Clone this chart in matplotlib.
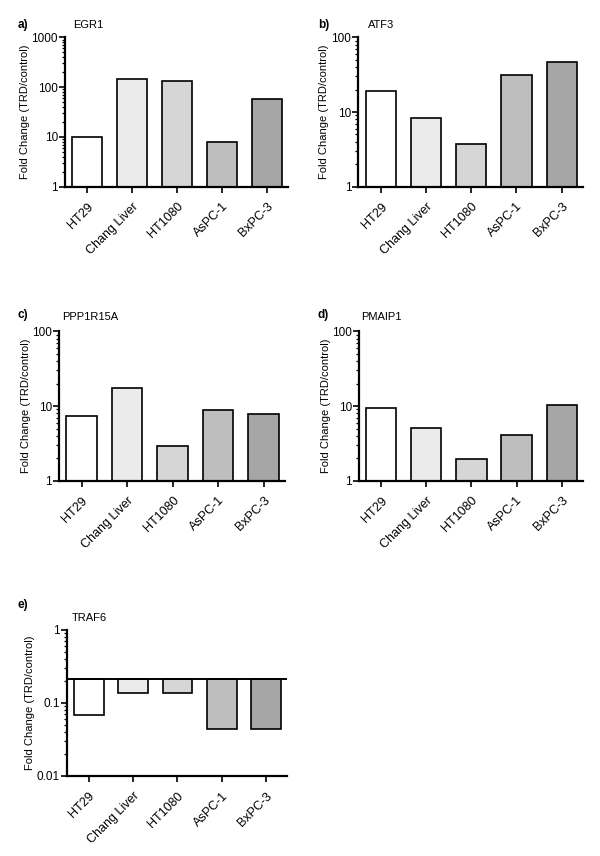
import matplotlib
matplotlib.use("Agg")
import matplotlib.pyplot as plt
from matplotlib.ticker import LogLocator, NullFormatter, FixedLocator, FixedFormatter

plt.rcParams['font.family'] = ['Liberation Sans', 'DejaVu Sans']

cell_lines = ["HT29", "Chang Liver", "HT1080", "AsPC-1", "BxPC-3"]
bar_colors = ["#ffffff", "#ebebeb", "#d6d6d6", "#bebebe", "#a6a6a6"]

egr1 = [9.8, 145, 132, 7.9, 58.5]
atf3 = [19.3, 8.4, 3.73, 31.6, 47.3]
ppp1r15a = [7.35, 17.6, 2.94, 8.84, 7.9]
pmaip1 = [9.4, 5.07, 1.93, 4.09, 10.2]
traf6 = [0.0685, 0.139, 0.139, 0.0436, 0.0436]
traf6_baseline = 0.215

panels = [
    dict(letter="a)", gene="EGR1", values=egr1, ylim=(1, 1000),
         yticks=[1, 10, 100, 1000], ylabels=["1", "10", "100", "1000"],
         rect=[0.1083, 0.7819, 0.3717, 0.1745], letter_xy=(18, 25), gene_xy=(73, 25), lpad=1),
    dict(letter="b)", gene="ATF3", values=atf3, ylim=(1, 100),
         yticks=[1, 10, 100], ylabels=["1", "10", "100"],
         rect=[0.597, 0.7819, 0.3745, 0.1745], letter_xy=(318, 25), gene_xy=(368, 25), lpad=2),
    dict(letter="c)", gene="PPP1R15A", values=ppp1r15a, ylim=(1, 100),
         yticks=[1, 10, 100], ylabels=["1", "10", "100"],
         rect=[0.0983, 0.4384, 0.3767, 0.1745], letter_xy=(18, 315), gene_xy=(62, 317), lpad=1),
    dict(letter="d)", gene="PMAIP1", values=pmaip1, ylim=(1, 100),
         yticks=[1, 10, 100], ylabels=["1", "10", "100"],
         rect=[0.598, 0.4384, 0.3733, 0.1745], letter_xy=(318, 315), gene_xy=(361, 317), lpad=1),
    dict(letter="e)", gene="TRAF6", values=traf6, ylim=(0.01, 1),
         yticks=[0.01, 0.1, 1], ylabels=["0.01", "0.1", "1"],
         rect=[0.111, 0.0935, 0.367, 0.1706], letter_xy=(18, 605), gene_xy=(72, 618),
         baseline=traf6_baseline, lpad=1),
]

W, H = 600, 856
fig = plt.figure(figsize=(6.0, 8.56), dpi=100)

for p in panels:
    ax = fig.add_axes(p["rect"])
    x = list(range(len(cell_lines)))
    base = p.get("baseline")
    if base is None:
        bottom = p["ylim"][0]
        hts = [v - bottom for v in p["values"]]
        ax.bar(x, hts, bottom=bottom, width=0.67, color=bar_colors,
               edgecolor="black", linewidth=1.2, zorder=2)
    else:
        hts = [v - base for v in p["values"]]
        ax.bar(x, hts, bottom=base, width=0.67, color=bar_colors,
               edgecolor="black", linewidth=1.2, zorder=2)
        ax.axhline(base, color="black", linewidth=1.4, zorder=3)
    ax.set_yscale("log")
    ax.set_ylim(*p["ylim"])
    ax.set_xlim(-0.5, 4.47)
    ax.spines["top"].set_visible(False)
    ax.spines["right"].set_visible(False)
    ax.spines["left"].set_linewidth(1.6)
    ax.spines["bottom"].set_linewidth(1.6)
    ax.yaxis.set_major_locator(FixedLocator(p["yticks"]))
    ax.yaxis.set_major_formatter(FixedFormatter(p["ylabels"]))
    ax.yaxis.set_minor_locator(LogLocator(base=10, subs=range(2, 10)))
    ax.yaxis.set_minor_formatter(NullFormatter())
    ax.tick_params(axis="y", which="major", length=4, width=1.2, labelsize=8.5, pad=1)
    ax.tick_params(axis="y", which="minor", length=2.5, width=0.9)
    ax.set_xticks(x)
    ax.set_xticklabels(cell_lines, rotation=45, ha="right", rotation_mode="anchor")
    ax.tick_params(axis="x", length=4, width=1.2, labelsize=9, pad=6)
    ax.set_ylabel("Fold Change (TRD/control)", fontsize=8, labelpad=p["lpad"])
    fig.text(p["letter_xy"][0] / W, 1 - p["letter_xy"][1] / H, p["letter"],
             fontsize=8.5, fontweight="bold", va="center", ha="left")
    fig.text(p["gene_xy"][0] / W, 1 - p["gene_xy"][1] / H, p["gene"],
             fontsize=8, va="center", ha="left")

fig.savefig("out.png", dpi=100)
